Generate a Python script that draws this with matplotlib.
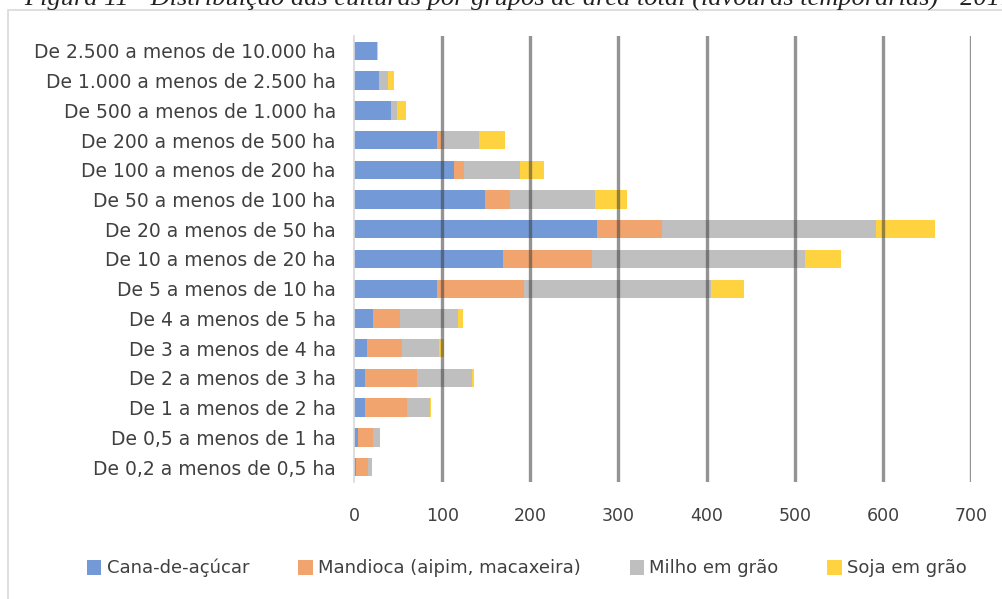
import matplotlib
matplotlib.use("Agg")
import matplotlib.pyplot as plt
import numpy as np
from matplotlib.patches import Rectangle

categories = [
    "De 2.500 a menos de 10.000 ha",
    "De 1.000 a menos de 2.500 ha",
    "De 500 a menos de 1.000 ha",
    "De 200 a menos de 500 ha",
    "De 100 a menos de 200 ha",
    "De 50 a menos de 100 ha",
    "De 20 a menos de 50 ha",
    "De 10 a menos de 20 ha",
    "De 5 a menos de 10 ha",
    "De 4 a menos de 5 ha",
    "De 3 a menos de 4 ha",
    "De 2 a menos de 3 ha",
    "De 1 a menos de 2 ha",
    "De 0,5 a menos de 1 ha",
    "De 0,2 a menos de 0,5 ha",
]
cana = [26, 28, 42, 94, 114, 149, 276, 169, 94, 21, 15, 12, 12, 5, 2]
mandioca = [0, 0, 0, 6, 11, 28, 73, 101, 99, 31, 39, 60, 48, 16, 14]
milho = [0, 11, 7, 42, 63, 96, 243, 242, 212, 66, 43, 62, 26, 9, 4]
soja = [1, 6, 10, 29, 27, 37, 67, 40, 38, 6, 5, 2, 1, 0, 0]
series_names = ["Cana-de-açúcar", "Mandioca (aipim, macaxeira)", "Milho em grão", "Soja em grão"]
colors = ["#7399d6", "#f2a46f", "#bfbfbf", "#ffd23f"]
xticks = [0, 100, 200, 300, 400, 500, 600, 700]
title = "Figura 11 - Distribuição das culturas por grupos de área total (lavouras temporárias) - 2017"

W, H = 1003, 599
fig = plt.figure(figsize=(W / 100, H / 100), dpi=100)
font = "DejaVu Sans"

# chart frame
fig.patches.append(Rectangle((8 / W, 1 - 620 / H), 1010 / W, 610 / H,
                             transform=fig.transFigure, fill=False,
                             edgecolor="#d9d9d9", linewidth=1.2))
# title (partly cut off at top, as in the reference)
fig.text(24 / W, 1 - 6 / H, title, fontsize=19, family="Liberation Serif",
         style="italic", va="baseline", ha="left", color="#222222")

ax = fig.add_axes([354 / W, 1 - 482 / H, (971 - 354) / W, (482 - 36) / H])
y = np.arange(len(categories))
data = [cana, mandioca, milho, soja]
left = np.zeros(len(categories))
for vals, name, c in zip(data, series_names, colors):
    vals = np.array(vals, dtype=float)
    ax.barh(y, vals, left=left, height=0.62, color=c, label=name, zorder=2)
    left += vals

for t in xticks[1:]:
    ax.axvline(t, color="#3c3c3c", alpha=0.55, linewidth=2.4, zorder=3)

ax.set_xlim(0, 700)
ax.set_ylim(len(categories) - 0.5, -0.5)
ax.set_yticks(y)
ax.set_yticklabels(categories, fontsize=13.5, family=font, color="#404040")
ax.set_xticks(xticks)
ax.set_xticklabels([str(t) for t in xticks], fontsize=12.5, family=font, color="#404040")
ax.tick_params(axis="both", length=0)
ax.tick_params(axis="x", pad=18)
ax.tick_params(axis="y", pad=13)
for s in ["top", "right", "bottom"]:
    ax.spines[s].set_visible(False)
ax.spines["left"].set_color("#d9d9d9")
ax.spines["left"].set_linewidth(1.2)

handles, labels = ax.get_legend_handles_labels()
fig.legend(handles, labels, loc="center", bbox_to_anchor=(527 / W, 1 - 568 / H),
           ncol=4, frameon=False, prop={"family": font, "size": 13},
           handlelength=0.8, handleheight=0.9, handletextpad=0.3, columnspacing=2.7,
           labelcolor="#404040")

fig.savefig("out.png", dpi=100)
